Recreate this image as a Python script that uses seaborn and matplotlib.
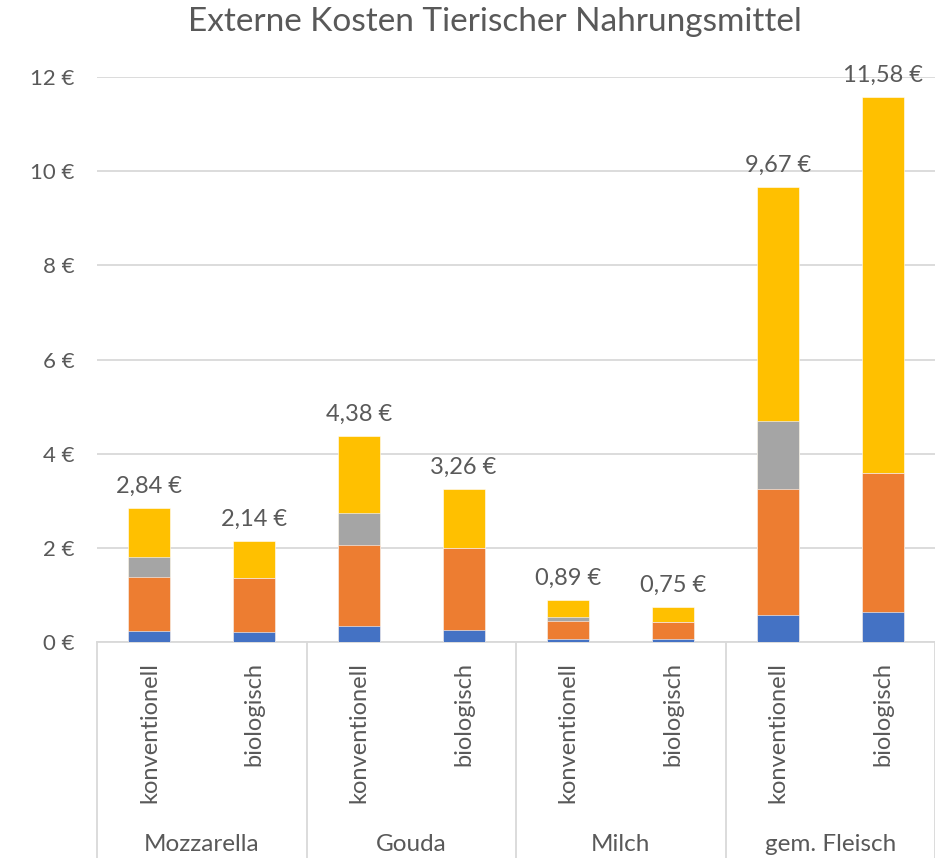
import numpy as np
import pandas as pd
import matplotlib.pyplot as plt
import seaborn as sns

# Werte in Euro, je Produkt: konventionell / biologisch
produkte = ["Mozzarella", "Gouda", "Milch", "gem. Fleisch"]
anbau = ["konventionell", "biologisch"]
teil_blau = [0.24, 0.21, 0.33, 0.26, 0.07, 0.06, 0.58, 0.64]
teil_orange = [1.15, 1.14, 1.74, 1.74, 0.38, 0.37, 2.66, 2.94]
teil_grau = [0.42, 0.00, 0.68, 0.00, 0.08, 0.00, 1.45, 0.00]
teil_gelb = [1.03, 0.79, 1.63, 1.26, 0.36, 0.32, 4.98, 8.00]
y_ticks = [0, 2, 4, 6, 8, 10, 12]

farben = ["#4472C4", "#ED7D31", "#A5A5A5", "#FFC000"]
textfarbe = "#595959"
linienfarbe = "#D9D9D9"

sns.set_style("white")
plt.rcParams['font.family'] = ['Lato', 'DejaVu Sans']

slots = [p + "|" + a for p in produkte for a in anbau]
df = pd.DataFrame({"slot": slots, "blau": teil_blau, "orange": teil_orange,
                   "grau": teil_grau, "gelb": teil_gelb})
teile = ["blau", "orange", "grau", "gelb"]
stapel = df[teile].cumsum(axis=1)  # kumulierte Höhen
df["summe"] = stapel["gelb"]

W, H = 935, 858
fig = plt.figure(figsize=(W / 100, H / 100), dpi=100)
ax = fig.add_axes([97 / W, 216 / H, 1 - 97 / W, 565 / H])

# von oben nach unten übereinander zeichnen
for i in range(3, -1, -1):
    sns.barplot(x=df["slot"], y=stapel[teile[i]], order=slots, color=farben[i],
                saturation=1, width=0.4, ax=ax, zorder=3,
                edgecolor="#FFFFFF", linewidth=0.4)

ax.set_xlim(-0.5, 7.5)
ax.set_ylim(0, 12)
ax.set_yticks(y_ticks)
ax.set_yticklabels([f"{t} €" for t in y_ticks])
ax.tick_params(axis='y', length=0, pad=16, labelsize=16, labelcolor=textfarbe)
ax.grid(axis='y', color=linienfarbe, lw=1.3, zorder=0)
ax.set_axisbelow(True)
ax.set_xticks([])
ax.set_xlabel("")
ax.set_ylabel("")
for s in ["top", "right", "left"]:
    ax.spines[s].set_visible(False)
ax.spines["bottom"].set_color(linienfarbe)
ax.spines["bottom"].set_linewidth(1.3)

# Summen über den Balken
for i, v in enumerate(df["summe"]):
    ax.annotate(f"{v:.2f} €".replace(".", ","), (i, v), xytext=(0, 8),
                textcoords="offset points", ha="center", va="bottom",
                fontsize=17, color=textfarbe)

# zweistufige Achsenbeschriftung
tr = ax.get_xaxis_transform()
for k in range(len(produkte) + 1):
    ax.plot([k * 2 - 0.5, k * 2 - 0.5], [0, -0.4], transform=tr,
            color=linienfarbe, lw=1.3, clip_on=False)
for i, s in enumerate(slots):
    ax.text(i, -0.035, s.split("|")[1], transform=tr, rotation=90,
            ha="center", va="top", fontsize=17, color=textfarbe)
for k, p in enumerate(produkte):
    ax.text(k * 2 + 0.5, -0.359, p, transform=tr, ha="center", va="center",
            fontsize=17.5, color=textfarbe)

fig.text(495 / W, 1 - 22 / H, "Externe Kosten Tierischer Nahrungsmittel",
         ha="center", va="center", fontsize=24, color=textfarbe)

plt.savefig("out.png", dpi=100)
